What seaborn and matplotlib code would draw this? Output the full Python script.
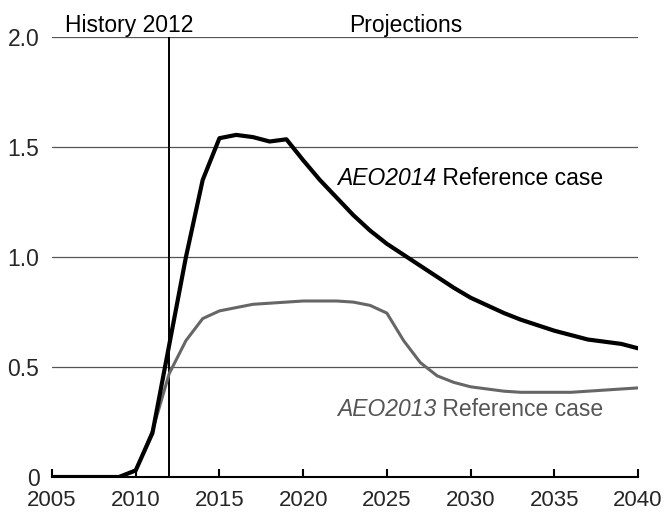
import matplotlib
matplotlib.use("Agg")
import matplotlib.pyplot as plt
import seaborn as sns
import pandas as pd

years = list(range(2005, 2041))
aeo2014 = [0, 0, 0, 0, 0, 0.03, 0.2, 0.6, 1.0, 1.35, 1.54, 1.555, 1.545, 1.525, 1.535,
           1.44, 1.35, 1.27, 1.19, 1.12, 1.06, 1.01, 0.96, 0.91, 0.86, 0.815, 0.78, 0.745,
           0.715, 0.69, 0.665, 0.645, 0.625, 0.615, 0.605, 0.585]
aeo2013 = [0, 0, 0, 0, 0, 0.03, 0.21, 0.47, 0.62, 0.72, 0.755, 0.77, 0.785, 0.79, 0.795,
           0.80, 0.80, 0.80, 0.795, 0.78, 0.745, 0.62, 0.52, 0.46, 0.43, 0.41, 0.40, 0.39,
           0.385, 0.385, 0.385, 0.385, 0.39, 0.395, 0.40, 0.405]
xticks = [2005, 2010, 2015, 2020, 2025, 2030, 2035, 2040]
yticks = [0, 0.5, 1.0, 1.5, 2.0]
ytick_labels = ["0", "0.5", "1.0", "1.5", "2.0"]

sns.set_theme(style="white")
plt.rcParams['font.family'] = ['Liberation Sans', 'DejaVu Sans']

df = pd.DataFrame({"year": years, "AEO2014": aeo2014, "AEO2013": aeo2013})

fig = plt.figure(figsize=(6.66, 5.15), dpi=100)
ax = fig.add_axes([52/666, 1 - 477/515, (638 - 52)/666, (477 - 37)/515])

for y in yticks[1:]:
    ax.axhline(y, color="#555555", lw=0.9, zorder=1)
ax.axvline(2012, color="black", lw=1.4, zorder=2)

sns.lineplot(data=df, x="year", y="AEO2013", ax=ax, color="#666666", lw=2.2, zorder=3)
sns.lineplot(data=df, x="year", y="AEO2014", ax=ax, color="black", lw=3.0, zorder=4)

ax.set_xlim(2005, 2040)
ax.set_ylim(0, 2.0)
ax.set_xticks(xticks)
ax.set_yticks(yticks)
ax.set_yticklabels(ytick_labels)
ax.set_xlabel("")
ax.set_ylabel("")
for s in ["top", "right", "left"]:
    ax.spines[s].set_visible(False)
ax.spines["bottom"].set_color("black")
ax.spines["bottom"].set_linewidth(1.5)
ax.tick_params(axis="x", direction="in", length=6, width=1.5, color="black",
               labelsize=16, pad=9, bottom=True)
ax.tick_params(axis="y", length=0, labelsize=16.5, pad=9)
ax.set_facecolor("white")

FS = 16.5
ax.text(2005.8, 2.022, "History 2012", fontsize=FS, ha="left", va="baseline", color="black")
ax.text(2026.1, 2.022, "Projections", fontsize=FS, ha="center", va="baseline", color="black")

fig.canvas.draw()
r = fig.canvas.get_renderer()

def two_part(x, y, italic, normal, color):
    t1 = ax.text(x, y, italic, fontsize=FS, style="italic", ha="left", va="center", color=color)
    bb = t1.get_window_extent(renderer=r)
    x2 = ax.transData.inverted().transform((bb.x1, bb.y0))[0]
    ax.text(x2, y, " " + normal, fontsize=FS, ha="left", va="center", color=color)

two_part(2022.0, 1.355, "AEO2014", "Reference case", "black")
two_part(2022.0, 0.305, "AEO2013", "Reference case", "#555555")

fig.savefig("out.png", dpi=100)
